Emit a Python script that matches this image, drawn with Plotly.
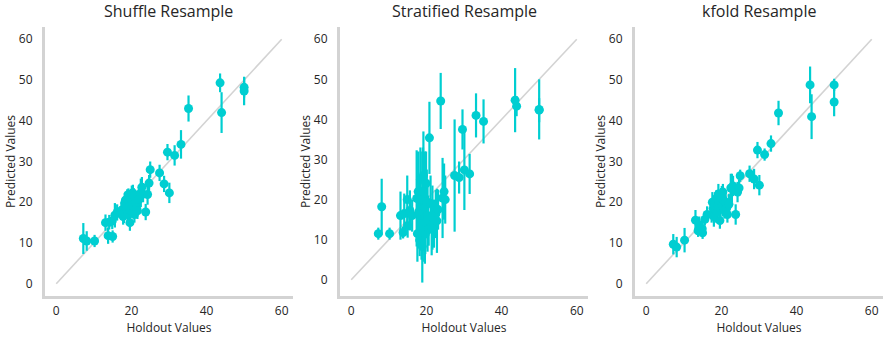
import plotly.graph_objects as go
from plotly.subplots import make_subplots

# ---------------- data ----------------
panel_titles = ["Shuffle Resample", "Stratified Resample", "kfold Resample"]

holdout = [7.2, 8.1, 10.2, 13.1, 13.8, 14.1, 14.9, 15.0, 15.6, 16.2,
           17.4, 17.6, 17.8, 18.0, 18.2, 18.4, 18.5, 18.7, 18.9, 19.1,
           19.2, 19.4, 19.6, 19.7, 19.9, 20.1, 20.3, 20.4, 20.6, 20.8,
           21.1, 21.4, 21.6, 22.0, 22.5, 22.8, 23.1, 23.8, 24.3, 24.7,
           25.0, 27.5, 28.7, 29.6, 30.1, 31.5, 33.2, 35.2, 43.6, 44.0,
           50.0, 50.0]

shuffle_pred = [11.1, 10.5, 10.5, 15.0, 11.8, 15.1, 15.4, 11.6, 16.8, 17.5,
                18.0, 18.2, 16.5, 17.4, 19.8, 20.5, 19.5, 18.3, 20.7, 17.2,
                21.9, 19.0, 15.0, 18.0, 20.8, 22.1, 19.2, 22.3, 21.5, 17.0,
                20.0, 18.5, 17.9, 20.7, 22.3, 23.7, 22.0, 17.6, 21.9, 24.7,
                28.0, 27.2, 24.5, 32.3, 22.3, 31.5, 34.2, 43.0, 49.3, 42.0,
                48.2, 47.3]
shuffle_err = [3.8, 2.4, 1.5, 2.0, 2.0, 1.8, 2.0, 1.5, 3.0, 2.0,
               2.0, 2.5, 2.0, 2.5, 2.5, 2.0, 3.0, 2.0, 2.5, 2.0,
               1.5, 2.5, 2.0, 2.0, 2.5, 2.0, 3.0, 2.0, 2.0, 2.0,
               2.5, 2.0, 2.0, 3.5, 3.5, 2.5, 2.0, 2.0, 2.5, 2.0,
               2.0, 2.0, 2.0, 2.0, 2.5, 2.5, 3.5, 3.2, 2.3, 5.0,
               2.5, 3.5]

stratified_pred = [11.5, 18.2, 11.5, 16.0, 11.8, 16.5, 20.0, 13.5, 17.3, 16.0,
                   20.3, 11.5, 22.0, 17.0, 9.9, 25.0, 20.0, 14.0, 8.3, 22.0,
                   26.0, 12.5, 18.0, 11.4, 24.0, 19.5, 16.0, 15.0, 12.5, 35.4,
                   19.0, 13.1, 15.5, 14.0, 16.4, 14.7, 17.5, 44.6, 20.4, 22.0,
                   20.0, 26.0, 25.5, 37.5, 27.4, 26.4, 41.0, 39.5, 44.8, 43.3,
                   42.5, 42.3]
stratified_err = [1.5, 7.0, 1.5, 6.0, 1.5, 5.0, 6.0, 3.0, 5.0, 4.0,
                  12.0, 7.0, 10.0, 9.0, 4.0, 8.0, 12.0, 9.0, 9.0, 11.0,
                  11.0, 8.0, 14.0, 5.0, 8.0, 8.0, 9.0, 6.0, 4.0, 9.0,
                  7.0, 7.0, 8.0, 6.0, 6.0, 8.0, 5.0, 7.0, 10.0, 7.0,
                  6.0, 14.0, 4.0, 5.0, 10.0, 5.0, 5.5, 5.5, 8.0, 2.5,
                  7.5, 3.0]

kfold_pred = [9.7, 9.0, 10.7, 15.6, 13.0, 14.5, 13.5, 12.5, 15.8, 17.0,
              17.0, 20.0, 18.5, 16.5, 19.0, 20.5, 18.0, 21.0, 17.5, 19.5,
              22.0, 20.0, 15.5, 18.5, 21.0, 21.5, 19.0, 22.5, 20.5, 18.0,
              20.0, 18.5, 17.0, 19.5, 23.5, 23.5, 24.0, 17.0, 22.5, 23.5,
              26.5, 27.0, 25.7, 32.8, 24.2, 31.7, 34.4, 41.9, 48.8, 41.0,
              48.8, 44.6]
kfold_err = [2.5, 2.5, 3.0, 2.5, 1.5, 2.0, 2.0, 1.5, 1.5, 2.0,
             2.0, 2.5, 2.0, 2.5, 2.5, 2.0, 3.0, 2.0, 2.5, 2.0,
             2.5, 2.5, 2.0, 2.0, 2.5, 2.5, 2.5, 2.0, 2.0, 2.0,
             2.0, 2.0, 2.0, 2.5, 3.5, 3.5, 2.5, 2.5, 2.5, 2.0,
             1.5, 2.0, 2.5, 2.0, 2.5, 1.5, 2.0, 3.0, 4.5, 5.5,
             1.5, 3.5]

diag_line = [0, 60]
x_ticks = [0, 20, 40, 60]
y_ticks = [0, 10, 20, 30, 40, 50, 60]
y_ranges = [[-3, 63], [-4.05, 63.05], [-3, 63]]
x_range = [-3, 63]

preds = [shuffle_pred, stratified_pred, kfold_pred]
errs = [shuffle_err, stratified_err, kfold_err]

# ---------------- figure ----------------
COLOR = "#00CED1"
AXIS_COLOR = "#d3d3d3"
TEXT = "#262626"
FONT = "Open Sans"

fig = make_subplots(rows=1, cols=3)

for i in range(3):
    fig.add_trace(go.Scatter(x=diag_line, y=diag_line, mode="lines",
                             line=dict(color="#d3d3d3", width=1.6),
                             hoverinfo="skip", showlegend=False),
                  row=1, col=i + 1)
    fig.add_trace(go.Scatter(x=holdout, y=preds[i], mode="markers",
                             marker=dict(color=COLOR, size=9),
                             error_y=dict(type="data", array=errs[i], visible=True,
                                          color=COLOR, thickness=2.2, width=0),
                             showlegend=False),
                  row=1, col=i + 1)

domains = [[0.0, 0.2959], [0.352, 0.648], [0.704, 1.0]]
annotations = []
for i in range(3):
    xa = "xaxis" if i == 0 else f"xaxis{i+1}"
    ya = "yaxis" if i == 0 else f"yaxis{i+1}"
    fig.layout[xa].update(
        domain=domains[i], range=x_range, tickvals=x_ticks,
        showgrid=False, zeroline=False, showline=True, linecolor=AXIS_COLOR,
        linewidth=3, ticks="", ticklabelstandoff=2,
        tickfont=dict(family=FONT, size=12, color=TEXT),
        title=dict(text="Holdout Values", standoff=2,
                   font=dict(family=FONT, size=12, color=TEXT)))
    fig.layout[ya].update(
        domain=[0, 1], range=y_ranges[i], tickvals=y_ticks,
        showgrid=False, zeroline=False, showline=True, linecolor=AXIS_COLOR,
        linewidth=3, ticks="", ticklabelstandoff=7,
        tickfont=dict(family=FONT, size=12, color=TEXT),
        title=dict(text="Predicted Values", standoff=1,
                   font=dict(family=FONT, size=12, color=TEXT)))
    annotations.append(dict(text=panel_titles[i], x=sum(domains[i]) / 2, y=1,
                            xref="paper", yref="paper", xanchor="center",
                            yanchor="bottom", yshift=3, showarrow=False,
                            font=dict(family=FONT, size=16, color=TEXT)))

fig.update_layout(width=889, height=341,
                  margin=dict(l=45, r=6, t=27, b=45),
                  paper_bgcolor="white", plot_bgcolor="white",
                  annotations=annotations, showlegend=False)

fig.write_html("out.html")
